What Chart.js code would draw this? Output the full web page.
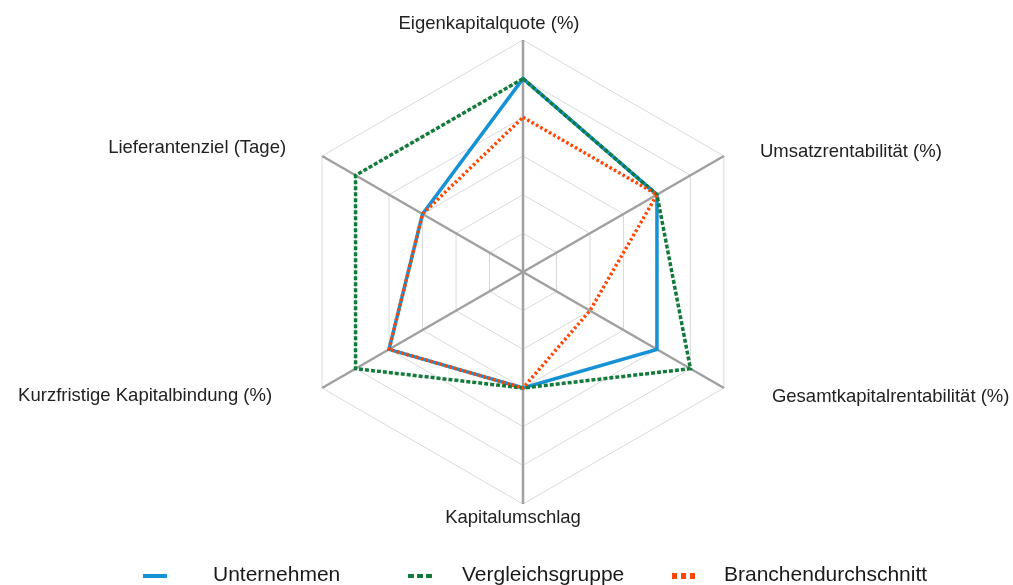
<!DOCTYPE html>
<html>
<head>
<meta charset="utf-8">
<script src="https://cdn.jsdelivr.net/npm/chart.js@4/dist/chart.umd.min.js"></script>
<style>
  body { margin: 0; background: #fff; }
  #wrap { position: relative; width: 1013px; height: 585px; overflow: hidden; }
  #chart { position: absolute; left: 0; top: 0; }
  .sw { position: absolute; height: 4px; width: 24px; top: 574px; }
  .lt { position: absolute; top: 562px; font: 21px 'Liberation Sans', Arial, sans-serif; line-height: 24px; color: #1a1a1a; white-space: nowrap; }
</style>
</head>
<body>
<div id="wrap">
  <canvas id="chart" width="1013" height="585"></canvas>
  <div class="sw" style="left:143px; background:#1591d6;"></div>
  <div class="lt" id="leg0" style="left:213px;"></div>
  <div class="sw" style="left:408px; background:repeating-linear-gradient(to right, #127a3a 0 6px, transparent 6px 9px);"></div>
  <div class="lt" id="leg1" style="left:462px;"></div>
  <div class="sw" style="left:672px; top:573px; height:6px; width:23px; background:repeating-linear-gradient(to right, #ff4500 0 5px, transparent 5px 9px);"></div>
  <div class="lt" id="leg2" style="left:724px;"></div>
</div>
<script>
'use strict';
// achsen und werte
var categories = ['Eigenkapitalquote (%)', 'Umsatzrentabilität (%)', 'Gesamtkapitalrentabilität (%)', 'Kapitalumschlag', 'Kurzfristige Kapitalbindung (%)', 'Lieferantenziel (Tage)'];
var seriesNames = ['Unternehmen', 'Vergleichsgruppe', 'Branchendurchschnitt'];
var unternehmen = [5, 4, 4, 3, 4, 3];
var vergleichsgruppe = [5, 4, 5, 3, 5, 5];
var branchendurchschnitt = [4, 4, 2, 3, 4, 3];
var scaleTicks = [0, 1, 2, 3, 4, 5, 6];

// label placement relative to outer vertex: dx, dy (baseline), align
var labelOffsets = [[-34, -11, 'center'], [36, 1, 'left'], [48, 14, 'left'], [-10, 19, 'center'], [-50, 13, 'right'], [-36, -3, 'right']];

for (var i = 0; i < seriesNames.length; i++) {
  document.getElementById('leg' + i).textContent = seriesNames[i];
}

var axisLabels = {
  id: 'axisLabels',
  afterDraw: function(chart) {
    var scale = chart.scales.r;
    var ctx = chart.ctx;
    ctx.save();
    ctx.font = "18.5px 'Liberation Sans', Arial, sans-serif";
    ctx.fillStyle = '#222';
    ctx.textBaseline = 'alphabetic';
    for (var i = 0; i < categories.length; i++) {
      var p = scale.getPointPosition(i, scale.drawingArea);
      ctx.textAlign = labelOffsets[i][2];
      ctx.fillText(categories[i], p.x + labelOffsets[i][0], p.y + labelOffsets[i][1]);
    }
    ctx.restore();
  }
};

var ctx = document.getElementById('chart').getContext('2d');
var chart = new Chart(ctx, {
  type: 'radar',
  data: {
    labels: categories,
    datasets: [{
      label: seriesNames[0],
      data: unternehmen,
      borderColor: '#1591d6',
      borderWidth: 3.5,
      fill: false,
      pointRadius: 0,
      order: 3,
    },
    {
      label: seriesNames[1],
      data: vergleichsgruppe,
      borderColor: '#127a3a',
      borderWidth: 3.5,
      borderDash: [4, 2],
      fill: false,
      pointRadius: 0,
      order: 2,
    },
    {
      label: seriesNames[2],
      data: branchendurchschnitt,
      borderColor: '#ff4500',
      borderWidth: 3.5,
      borderDash: [2.5, 2.5],
      fill: false,
      pointRadius: 0,
      order: 1,
    }],
  },
  options: {
    responsive: false,
    animation: false,
    devicePixelRatio: 1,
    layout: { padding: { top: 40, bottom: 81, left: 33, right: 0 } },
    plugins: { legend: { display: false }, tooltip: { enabled: false } },
    elements: { line: { tension: 0 } },
    scales: {
      r: {
        min: scaleTicks[0],
        max: scaleTicks[scaleTicks.length - 1],
        ticks: { display: false, stepSize: 1 },
        pointLabels: { display: false },
        grid: { color: '#d9d9d9', lineWidth: 1 },
        angleLines: { color: '#a0a0a0', lineWidth: 2.5 },
      }
    }
  },
  plugins: [axisLabels]
});
</script>
</body>
</html>
